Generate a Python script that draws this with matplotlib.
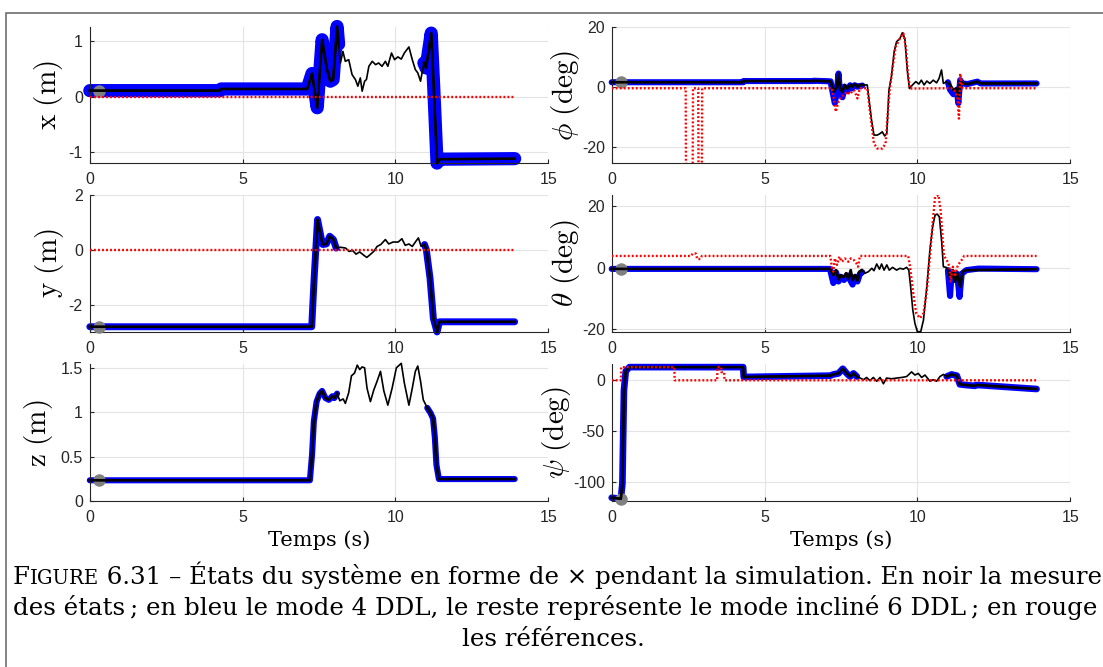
import matplotlib
matplotlib.use('Agg')
import matplotlib.pyplot as plt
import numpy as np
from matplotlib.patches import Rectangle
from matplotlib.ticker import FormatStrFormatter

plt.rcParams['mathtext.fontset'] = 'cm'
plt.rcParams['font.family'] = 'Liberation Sans'
plt.rcParams['axes.unicode_minus'] = False

W, H = 1103, 667

# ---------------- data ----------------
# x (m)
x_t = [0, 0.3, 4.25, 4.3, 7.11, 7.27, 7.44, 7.60, 7.76, 7.87, 7.96, 8.09, 8.14, 8.20, 8.28, 8.36,
       8.47, 8.58, 8.69, 8.77, 8.85, 8.91, 8.99, 9.05, 9.13, 9.24, 9.35, 9.45, 9.56, 9.67, 9.75,
       9.87, 9.97, 10.08, 10.19, 10.29, 10.44, 10.55, 10.65, 10.73, 10.82, 10.93, 11.00, 11.17,
       11.25, 11.36, 11.45, 13.9]
x_v = [0.11, 0.11, 0.11, 0.14, 0.14, 0.42, -0.20, 1.03, 0.49, 0.28, 0.31, 1.27, 0.95, 0.61, 0.82,
       0.64, 0.67, 0.40, 0.31, 0.19, 0.34, 0.10, 0.28, 0.31, 0.55, 0.64, 0.58, 0.61, 0.55, 0.64,
       0.55, 0.79, 0.67, 0.72, 0.68, 0.79, 0.90, 0.67, 0.49, 0.43, 0.28, 0.61, 0.52, 1.15, 0.19,
       -1.20, -1.13, -1.12]
x_ref_t = [0, 13.9]
x_ref_v = [0, 0]
x_blue_win = [(0, 8.15), (10.9, 14)]

# y (m)
y_t = [0, 0.3, 7.26, 7.34, 7.45, 7.57, 7.62, 7.74, 7.85, 7.97, 8.06, 8.20, 8.37, 8.48, 8.60, 8.71,
       8.83, 8.94, 9.06, 9.17, 9.29, 9.40, 9.52, 9.67, 9.78, 9.92, 10.09, 10.21, 10.32, 10.44,
       10.55, 10.67, 10.75, 10.84, 10.95, 11.01, 11.13, 11.24, 11.36, 11.44, 13.9]
y_v = [-2.79, -2.79, -2.79, -1.02, 1.11, 0.44, 0.20, 0.22, 0.50, 0.38, 0.07, 0.10, 0.07, -0.05,
       -0.02, -0.15, -0.07, -0.17, -0.27, -0.17, -0.05, 0.13, 0.20, 0.38, 0.22, 0.29, 0.29, 0.41,
       0.17, 0.22, 0.13, 0.32, 0.44, 0.13, 0.20, 0.01, -1.02, -2.49, -2.98, -2.61, -2.61]
y_ref_t = [0, 13.9]
y_ref_v = [0, 0]
y_blue_win = [(0, 8.06), (10.95, 14)]

# z (m)
z_t = [0, 0.3, 7.20, 7.27, 7.33, 7.42, 7.52, 7.60, 7.71, 7.82, 7.93, 8.00, 8.09, 8.18, 8.29, 8.36,
       8.47, 8.56, 8.66, 8.75, 8.83, 8.91, 8.99, 9.07, 9.18, 9.29, 9.40, 9.51, 9.62, 9.75, 9.89,
       10.03, 10.19, 10.29, 10.44, 10.55, 10.65, 10.73, 10.82, 10.91, 11.04, 11.15, 11.23, 11.29,
       11.34, 11.42, 13.9]
z_v = [0.236, 0.236, 0.236, 0.52, 0.90, 1.12, 1.21, 1.24, 1.16, 1.14, 1.18, 1.16, 1.21, 1.13,
       1.15, 1.10, 1.22, 1.41, 1.44, 1.53, 1.48, 1.51, 1.50, 1.27, 1.12, 1.25, 1.35, 1.46, 1.24,
       1.08, 1.27, 1.50, 1.55, 1.33, 1.08, 1.27, 1.46, 1.52, 1.35, 1.14, 1.05, 0.99, 0.93, 0.71,
       0.41, 0.25, 0.25]
z_ref_t = []
z_ref_v = []
z_blue_win = [(0, 8.12), (10.95, 14)]

# phi (deg)
phi_t = [0, 0.3, 4.3, 4.31, 6.6, 6.61, 7.16, 7.27, 7.36, 7.42, 7.47, 7.55, 7.62, 7.71, 7.80, 7.87,
         7.95, 8.04, 8.12, 8.20, 8.36, 8.42, 8.50, 8.58, 8.69, 8.78, 8.85, 8.93, 9.00, 9.07, 9.15,
         9.24, 9.32, 9.43, 9.51, 9.59, 9.67, 9.74, 9.84, 9.95, 10.05, 10.13, 10.22, 10.31, 10.41,
         10.52, 10.63, 10.71, 10.79, 10.85, 10.96, 11.07, 11.18, 11.29, 11.34, 11.40, 11.47,
         11.64, 11.96, 12.07, 13.9]
phi_v = [1.5, 1.5, 1.5, 1.9, 1.9, 2.0, 1.8, -1.7, 0.0, 4.4, -0.6, -1.7, 0.6, -0.6, 0.6, 0.0, 0.9,
         0.0, 0.6, 0.6, 0.6, -4.4, -11.1, -16.1, -16.1, -15.6, -15.0, -16.4, -15.6, -1.1, 3.3,
         11.7, 15.0, 16.1, 18.0, 16.1, 5.6, -0.6, 0.6, 1.7, 0.9, 2.2, 0.6, 1.9, 1.1, 2.2, 1.3, 2.8,
         5.6, 1.1, 1.7, 0.6, -1.1, -0.6, -3.9, 2.2, 1.1, 0.9, 1.7, 1.1, 1.1]
phi_blue1_t = [0, 0.3, 4.3, 4.31, 6.6, 6.61, 7.16, 7.25, 7.30, 7.36, 7.42, 7.47, 7.55, 7.62, 7.71,
               7.80, 7.87, 7.95, 8.04, 8.20]
phi_blue1_v = [1.5, 1.5, 1.5, 1.9, 1.9, 2.0, 1.8, -3.0, -5.5, -2.0, 4.4, -2.0, -3.5, 0.0, -1.5,
               0.5, -0.5, 0.5, 0.0, 0.4]
phi_blue2_t = [11.0, 11.07, 11.18, 11.29, 11.34, 11.40, 11.47, 11.64, 11.96, 12.07, 13.9]
phi_blue2_v = [1.5, -1.0, -2.5, -1.0, -5.5, 2.2, 1.1, 0.9, 1.7, 1.1, 1.1]
phi_ref_t = [0, 2.42, 2.43, 2.65, 2.66, 2.83, 2.84, 2.95, 2.96, 7.20, 7.27, 7.33, 7.42, 7.50, 7.60,
             7.70, 7.80, 7.90, 7.95, 8.04, 8.12, 8.36, 8.47, 8.58, 8.69, 8.85, 8.96, 9.04, 9.10,
             9.18, 9.29, 9.43, 9.54, 9.62, 9.69, 9.76, 11.10, 11.20, 11.31, 11.36, 11.40, 11.47,
             13.9]
phi_ref_v = [-0.5, -0.5, -27, -27, -0.5, -0.5, -27, -27, -0.5, -0.5, -4.0, -8.3, -5.0, -3.3, -2.8,
             -1.7, -2.5, -1.1, -1.5, -3.9, -0.5, -0.5, -10.0, -18.9, -20.6, -20.6, -18.9, -7.8,
             -0.6, 5.6, 13.3, 16.1, 17.8, 13.3, 4.4, -0.6, -0.5, -1.0, -3.3, -10.6, 4.4, -0.5, -0.5]

# theta (deg)
theta_t = [0, 0.3, 7.14, 7.25, 7.34, 7.42, 7.49, 7.58, 7.67, 7.74, 7.82, 7.88, 7.96, 8.04, 8.10,
           8.18, 8.29, 8.40, 8.51, 8.58, 8.67, 8.76, 8.83, 8.91, 9.00, 9.08, 9.19, 9.32, 9.43,
           9.54, 9.65, 9.72, 9.78, 9.85, 9.92, 10.0, 10.11, 10.20, 10.31, 10.41, 10.50, 10.58,
           10.65, 10.72, 10.80, 10.85, 10.94, 11.01, 11.09, 11.16, 11.23, 11.31, 11.40, 11.48,
           11.61, 13.9]
theta_v = [-0.4, -0.4, -0.4, -2.4, -0.8, -3.8, -2.4, -3.1, -1.8, -3.5, -0.8, -4.0, -2.4, -4.2,
           -1.3, -0.8, -1.8, -1.3, -0.2, -1.0, 1.2, -0.5, 1.2, -0.8, 0.9, -0.8, 0.1, -0.8, -0.2,
           -0.5, 0.1, -0.8, -6.2, -13.7, -18.1, -20.8, -20.8, -17.0, -6.2, 5.7, 13.3, 17.1, 17.4,
           16.5, 7.9, 0.3, 0.1, -0.8, -4.0, -0.8, -4.5, -1.8, -6.2, -1.3, -0.8, -0.5]
theta_blue1_t = [0, 0.3, 7.14, 7.25, 7.34, 7.42, 7.50, 7.60, 7.70, 7.80, 7.88, 7.96, 8.04, 8.12,
                 8.20]
theta_blue1_v = [-0.4, -0.4, -0.4, -5.0, -1.5, -4.5, -3.0, -4.0, -2.5, -4.0, -5.5, -3.0, -4.5,
                 -2.0, -1.5]
theta_blue2_t = [11.0, 11.07, 11.12, 11.20, 11.30, 11.38, 11.45, 11.60, 12.0, 13.9]
theta_blue2_v = [-0.8, -9.2, -1.5, -4.0, -2.0, -9.5, -2.0, -0.8, -0.3, -0.5]
theta_ref_t = [0, 2.60, 2.65, 2.75, 2.80, 2.90, 2.95, 7.15, 7.20, 7.25, 7.30, 7.37, 7.45, 7.53,
               7.63, 7.74, 7.82, 7.92, 8.00, 8.06, 8.12, 9.70, 9.76, 9.85, 9.96, 10.09, 10.20,
               10.31, 10.41, 10.50, 10.58, 10.69, 10.76, 10.83, 10.87, 10.96, 11.05, 11.09, 11.16,
               11.23, 11.31, 11.37, 11.45, 11.53, 13.9]
theta_ref_v = [3.8, 3.8, 4.6, 4.6, 2.8, 2.8, 3.8, 3.8, 0.3, -1.3, 3.0, 0.9, 3.6, 1.9, 3.0, 1.9,
               3.0, 2.5, 1.5, 0.3, 3.8, 3.8, 0.3, -7.2, -14.8, -16.4, -14.8, -7.2, 3.6, 14.6,
               23.0, 23.6, 18.7, 9.0, 3.8, 2.5, 0.3, -4.5, 0.3, -2.9, 0.3, 1.4, 2.5, 3.8, 3.8]

# psi (deg)
psi_t = [0, 0.3, 0.35, 0.40, 0.46, 0.58, 4.30, 4.32, 7.15, 7.25, 7.42, 7.56, 7.69, 7.80, 7.91,
         8.02, 8.13, 8.24, 8.34, 8.45, 8.56, 8.67, 8.78, 8.89, 8.99, 9.16, 9.32, 9.49, 9.65,
         9.81, 9.92, 10.03, 10.14, 10.25, 10.41, 10.52, 10.63, 10.74, 10.85, 10.96, 11.12, 11.29,
         11.39, 11.56, 11.88, 11.94, 13.9]
psi_v = [-116, -117, -102, -10, 9, 13, 13, 3.3, 4.6, 5.8, 6.8, 11.4, 6.8, 3.7, 6.8, 3.7, 2.2,
         0.6, 2.8, -0.3, 2.8, -0.9, 2.8, -3.4, 2.2, 1.5, 2.2, 2.8, 3.7, 8.3, 5.2, 6.8, 2.8, 5.2,
         -0.9, 0.6, -0.9, 3.7, 5.8, 3.7, 5.8, 4.6, -4.0, -4.6, -5.5, -4.6, -8.6]
psi_ref_t = [0, 0.30, 0.31, 2.05, 2.06, 3.45, 3.46, 3.58, 3.59, 3.68, 3.69, 13.9]
psi_ref_v = [0, 0, 13, 13, 0, 0, 13, 13, 8, 8, 0, 0]
psi_blue_win = [(0, 8.1), (10.9, 14)]

xticks = [0, 5, 10, 15]
x_yticks = [-1, 0, 1]
y_yticks = [-2, 0, 2]
z_yticks = [0, 0.5, 1, 1.5]
ang_yticks = [-20, 0, 20]
psi_yticks = [-100, -50, 0]

caption1 = ' 6.31 \u2013 \u00c9tats du syst\u00e8me en forme de \u00d7 pendant la simulation. En noir la mesure'
caption2 = 'des \u00e9tats\u2009; en bleu le mode 4 DDL, le reste repr\u00e9sente le mode inclin\u00e9 6 DDL\u2009; en rouge'
caption3 = 'les r\u00e9f\u00e9rences.'


def windows(t, v, wins):
    t = np.asarray(t, float)
    v = np.asarray(v, float)
    out = []
    for a, b in wins:
        m = (t >= a) & (t <= b)
        out.append((t[m], v[m]))
    return out


fig = plt.figure(figsize=(W / 100, H / 100), dpi=100)

# document frame
fig.patches.append(Rectangle((6 / W, -0.1), 1.2, 1.1 - 13.5 / H, transform=fig.transFigure,
                             fill=False, edgecolor='#6e6e6e', lw=1.2))


def panel(left, top, bottom, t, v, blue, ref_t, ref_v, ylim, yticks, ylabel, blw, labx, xlabel=False):
    rect = [left / W, 1 - bottom / H, 458.5 / W, (bottom - top) / H]
    ax = fig.add_axes(rect)
    for bt, bv in blue:
        ax.plot(bt, bv, color='#0000ff', lw=blw, solid_capstyle='round',
                solid_joinstyle='round', zorder=2, clip_on=False)
    ax.plot(t[1], v[1], 'o', ms=9, color='#808080', mec='none', zorder=3, clip_on=False)
    tt = np.asarray(t, float)
    vv = np.asarray(v, float)
    for bt, bv in blue:
        m = (tt >= bt[0]) & (tt <= bt[-1])
        ax.plot(tt[m], vv[m], color='k', lw=1.9, zorder=4, clip_on=False)
    ax.plot(tt, vv, color='k', lw=1.2, zorder=4, clip_on=False)
    if len(ref_t):
        ax.plot(ref_t, ref_v, color='#ff0000', lw=1.7, ls=(0, (0.8, 0.9)), zorder=5)
    ax.set_xlim(0, 15)
    ax.set_ylim(ylim)
    ax.set_xticks(xticks)
    ax.set_yticks(yticks)
    ax.yaxis.set_major_formatter(FormatStrFormatter('%g'))
    ax.grid(True, color='#e4e4e4', lw=0.8)
    ax.set_axisbelow(True)
    for s in ['top', 'right']:
        ax.spines[s].set_visible(False)
    for s in ['left', 'bottom']:
        ax.spines[s].set_color('#262626')
        ax.spines[s].set_linewidth(0.8)
    ax.tick_params(direction='in', length=3, width=0.8, colors='#262626', labelsize=11.5)
    ax.tick_params(axis='x', pad=6.5)
    ax.tick_params(axis='y', pad=5)
    ax.set_ylabel(ylabel, fontsize=21, va='center')
    ax.yaxis.set_label_coords(labx, 0.5)
    if xlabel:
        ax.set_xlabel('Temps (s)', fontsize=15, family='DejaVu Serif', va='center')
        ax.xaxis.set_label_coords(0.5, -(540 - bottom) / (bottom - top))
    return ax


L, R = 89.8, 611.7
panel(L, 26.7, 163.3, x_t, x_v, windows(x_t, x_v, x_blue_win), x_ref_t, x_ref_v,
      (-1.204, 1.266), x_yticks, r'$\mathrm{x}\ (\mathrm{m})$', 9.5, -0.091)
panel(R, 26.7, 163.3, phi_t, phi_v, [(phi_blue1_t, phi_blue1_v), (phi_blue2_t, phi_blue2_v)],
      phi_ref_t, phi_ref_v, (-25.5, 20), ang_yticks, r'$\phi\ (\mathrm{deg})$', 4.4, -0.1)
panel(L, 195, 331.7, y_t, y_v, windows(y_t, y_v, y_blue_win), y_ref_t, y_ref_v,
      (-2.97, 2), y_yticks, r'$\mathrm{y}\ (\mathrm{m})$', 5.0, -0.087)
panel(R, 195, 331.7, theta_t, theta_v, [(theta_blue1_t, theta_blue1_v), (theta_blue2_t, theta_blue2_v)],
      theta_ref_t, theta_ref_v, (-20.8, 23.6), ang_yticks, r'$\theta\ (\mathrm{deg})$', 4.4, -0.1)
panel(L, 364.5, 501.3, z_t, z_v, windows(z_t, z_v, z_blue_win), z_ref_t, z_ref_v,
      (0, 1.537), z_yticks, r'$\mathrm{z}\ (\mathrm{m})$', 4.4, -0.111, xlabel=True)
panel(R, 364.5, 501.3, psi_t, psi_v, windows(psi_t, psi_v, psi_blue_win), psi_ref_t, psi_ref_v,
      (-119.5, 15.6), psi_yticks, r'$\psi\ (\mathrm{deg})$', 4.8, -0.121, xlabel=True)

# ---------------- caption (fitted to the text width) ----------------
fig.canvas.draw()
rend = fig.canvas.get_renderer()
cap_font = 'DejaVu Serif'


def put_line(parts, x0, ybase, size):
    objs = []
    x = x0
    for txt, rel in parts:
        o = fig.text(x / W, 1 - ybase / H, txt, fontsize=size * rel, family=cap_font,
                     va='baseline', ha='left', color='k')
        w = o.get_window_extent(rend).width
        objs.append(o)
        x += w
    return objs, x - x0


line1 = [('F', 1.0), ('IGURE', 0.8), (caption1, 1.0)]
objs, wid = put_line(line1, 12.7, 584, 14)
for o in objs:
    o.remove()
size = 14 * (1096 / wid)
put_line(line1, 12.7, 584, size)
put_line([(caption2, 1.0)], 12.7, 615, size)
fig.text(553 / W, 1 - 646 / H, caption3, fontsize=size, family=cap_font, va='baseline', ha='center')

fig.savefig('out.png', dpi=100)
